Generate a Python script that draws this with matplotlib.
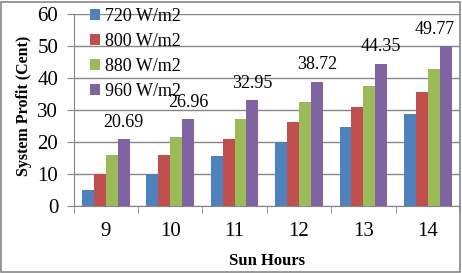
import numpy as np
import matplotlib.pyplot as plt
from matplotlib.patches import Rectangle

hours = ['9', '10', '11', '12', '13', '14']
series = ['720 W/m2', '800 W/m2', '880 W/m2', '960 W/m2']
p720 = [4.8, 10.0, 15.4, 20.0, 24.5, 28.6]
p800 = [10.0, 15.9, 21.0, 26.0, 30.9, 35.5]
p880 = [15.8, 21.6, 27.0, 32.5, 37.5, 42.6]
p960 = [20.69, 26.96, 32.95, 38.72, 44.35, 49.77]
colors = ['#4F81BD', '#C0504D', '#9BBB59', '#8064A2']

plt.rcParams['font.family'] = 'Liberation Serif'

fig = plt.figure(figsize=(4.62, 2.73), dpi=100)
ax = fig.add_axes([73.5/462, 1-205.7/273, (460-73.5)/462, (205.7-13.7)/273])

x = np.arange(len(hours))
w = 0.185
for i, (vals, c, name) in enumerate(zip([p720, p800, p880, p960], colors, series)):
    bars = ax.bar(x + (i-1.5)*w, vals, w, color=c, label=name, zorder=3)
    if i == 3:
        for j, (b, v) in enumerate(zip(bars, vals)):
            dx = -8 if j == len(vals) - 1 else 0
            ax.annotate(f'{v:.2f}', (b.get_x()+b.get_width()/2, v), xytext=(dx, 6),
                        textcoords='offset points', ha='center', va='bottom', fontsize=13)

ax.set_xlim(-0.5, 5.5)
ax.set_ylim(0, 60)
ax.set_yticks(range(0, 61, 10))
ax.set_xticks(x)
ax.set_xticklabels(hours)
ax.set_xticks(np.arange(-0.5, 6, 1), minor=True)
ax.tick_params(axis='x', which='major', length=0, pad=12, labelsize=15)
ax.tick_params(axis='x', which='minor', length=5, color='#868686', direction='out')
ax.tick_params(axis='y', length=5, color='#868686', pad=6, labelsize=15)
ax.grid(axis='y', color='#868686', linewidth=1, zorder=0)
for s in ['top', 'right']:
    ax.spines[s].set_visible(False)
for s in ['left', 'bottom']:
    ax.spines[s].set_color('#868686')
ax.set_ylabel('System Profit (Cent)', fontsize=11.5, fontweight='bold')
ax.set_xlabel('Sun Hours', fontsize=12, fontweight='bold')
ax.yaxis.set_label_coords(-0.108, 0.52)
ax.xaxis.set_label_coords(0.5, -0.245)

ax.legend(loc='upper left', bbox_to_anchor=(0.0, 1.115), frameon=False, fontsize=13,
          handlelength=0.55, handleheight=0.55, handletextpad=0.3, labelspacing=0.45)

fig.patches.append(Rectangle((0.003, 0.004), 0.993, 0.99, transform=fig.transFigure,
                             fill=False, edgecolor='#868686', linewidth=1.2))

fig.savefig('out.png', dpi=100)
